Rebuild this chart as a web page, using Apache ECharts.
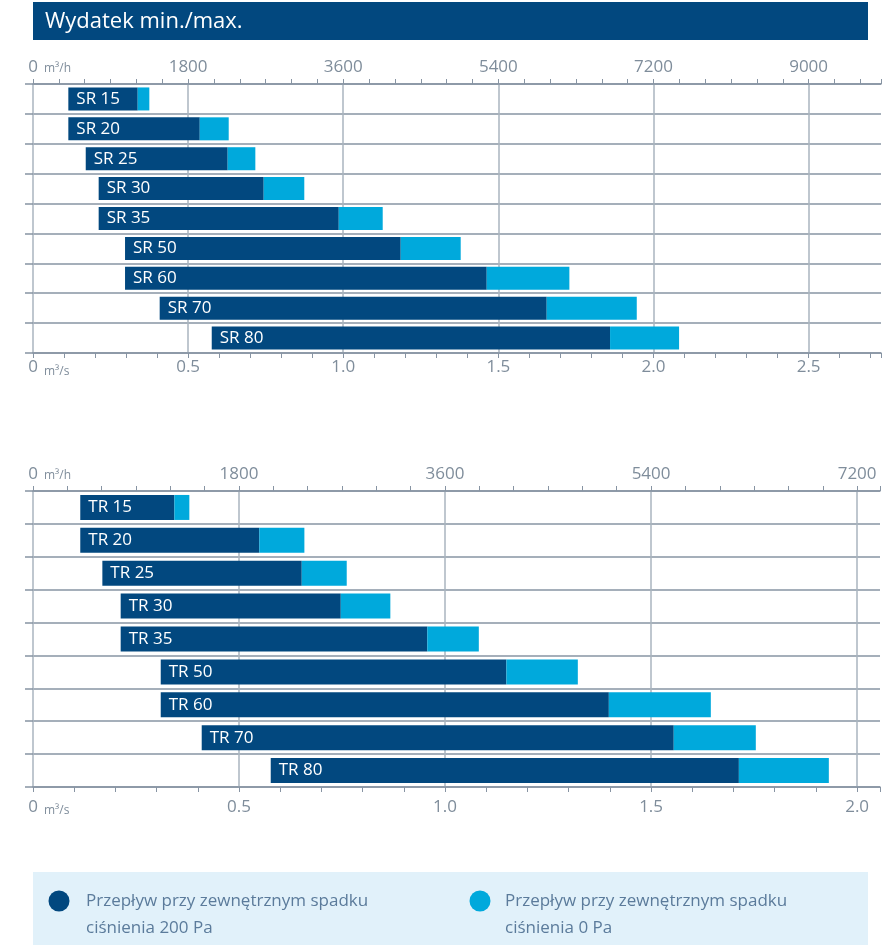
<!DOCTYPE html>
<html>
<head>
<meta charset="utf-8">
<script src="https://cdn.jsdelivr.net/npm/echarts@6/dist/echarts.min.js"></script>
<style>
  html, body { margin: 0; padding: 0; background: #fff; }
  #main { width: 890px; height: 945px; }
</style>
</head>
<body>
<div id="main"></div>
<script>
// wydatek w m3/h: poczatek slupka, 200 Pa, 0 Pa
var srNames = ['SR 15', 'SR 20', 'SR 25', 'SR 30', 'SR 35', 'SR 50', 'SR 60', 'SR 70', 'SR 80'];
var srStart = [410, 410, 612, 762, 762, 1068, 1068, 1470, 2074];
var srMin = [1215, 1935, 2259, 2677, 3548, 4267, 5265, 5961, 6696];
var srMax = [1350, 2271, 2580, 3148, 4058, 4963, 6224, 7006, 7497];

var trNames = ['TR 15', 'TR 20', 'TR 25', 'TR 30', 'TR 35', 'TR 50', 'TR 60', 'TR 70', 'TR 80'];
var trStart = [413, 413, 606, 766, 766, 1116, 1116, 1474, 2077];
var trMin = [1235, 1977, 2348, 2689, 3445, 4136, 5031, 5598, 6167];
var trMax = [1366, 2371, 2741, 3122, 3895, 4760, 5922, 6315, 6953];

var legendNames = ['Przepływ przy zewnętrznym spadku\nciśnienia 200 Pa', 'Przepływ przy zewnętrznym spadku\nciśnienia 0 Pa'];

var dark = '#02487f';
var light = '#00a9dc';
var labelCol = '#7f8d9b';
var rowCol = '#8794a3';
var gridCol = '#aab4bf';
var font = "'Open Sans', 'Noto Sans', sans-serif";

(function () {
  var myChart = echarts.init(document.getElementById('main'));

  function diff(a, b) {
    return a.map(function (v, i) { return v - b[i]; });
  }

  function topAxis(g, max) {
    var cols = [gridCol, 'rgba(0,0,0,0)', 'rgba(0,0,0,0)', 'rgba(0,0,0,0)', 'rgba(0,0,0,0)', 'rgba(0,0,0,0)'];
    return {
      gridIndex: g, type: 'value', position: 'top', min: 0, max: max, interval: 300,
      axisLine: { show: true, lineStyle: { color: rowCol, width: 1.5 } },
      axisTick: { show: true, length: 5, lineStyle: { color: rowCol, width: 1 } },
      axisLabel: {
        margin: 8, color: labelCol, fontSize: 17, fontFamily: font,
        formatter: function (v) { return v % 1800 === 0 ? String(v) : ''; }
      },
      splitLine: { show: true, lineStyle: { color: cols, width: 1.5 } }
    };
  }

  function bottomAxis(g, max, margin) {
    return {
      gridIndex: g, type: 'value', position: 'bottom', min: 0, max: max / 3600, interval: 0.1,
      axisLine: { show: true, lineStyle: { color: rowCol, width: 1.5 } },
      axisTick: { show: true, length: 5, lineStyle: { color: rowCol, width: 1 } },
      axisLabel: {
        margin: margin, color: labelCol, fontSize: 17, fontFamily: font,
        formatter: function (v) {
          var h = v * 2;
          if (Math.abs(h - Math.round(h)) > 1e-6) return '';
          return v === 0 ? '0' : v.toFixed(1);
        }
      },
      splitLine: { show: false }
    };
  }

  function catAxis(g, names) {
    return {
      gridIndex: g, type: 'category', data: names, inverse: true,
      axisLine: { show: false },
      axisLabel: { show: false },
      axisTick: { show: true, interval: 0, length: 8, lineStyle: { color: rowCol, width: 1.5 } },
      splitLine: { show: true, interval: 0, lineStyle: { color: rowCol, width: 1.5 } }
    };
  }

  function bars(g, xi, start, min, max, gap) {
    var st = 'g' + g;
    return [
      {
        type: 'bar', stack: st, xAxisIndex: xi, yAxisIndex: g, silent: true,
        barCategoryGap: gap, itemStyle: { color: 'rgba(0,0,0,0)' }, data: start
      },
      {
        name: legendNames[0], type: 'bar', stack: st, xAxisIndex: xi, yAxisIndex: g,
        barCategoryGap: gap, itemStyle: { color: dark },
        label: {
          show: true, position: 'insideLeft', distance: 8, formatter: '{b}',
          color: '#fff', fontSize: 17, fontFamily: font
        },
        data: diff(min, start)
      },
      {
        name: legendNames[1], type: 'bar', stack: st, xAxisIndex: xi, yAxisIndex: g,
        barCategoryGap: gap, itemStyle: { color: light }, data: diff(max, min)
      }
    ];
  }

  function unit(x, y, txt) {
    return {
      type: 'text', left: x, top: y, silent: true,
      style: { text: txt, fill: labelCol, fontSize: 12, fontFamily: font }
    };
  }

  var option = {
    animation: false,
    grid: [
      { left: 33, right: 9, top: 84, height: 269 },
      { left: 33, right: 10, top: 491, height: 296 }
    ],
    xAxis: [
      topAxis(0, 9840),
      bottomAxis(0, 9840, 6),
      topAxis(1, 7400),
      bottomAxis(1, 7400, 12)
    ],
    yAxis: [catAxis(0, srNames), catAxis(1, trNames)],
    series: [].concat(
      bars(0, 0, srStart, srMin, srMax, '23%'),
      bars(1, 2, trStart, trMin, trMax, '24%')
    ),
    graphic: [
      { type: 'rect', left: 33, top: 2, shape: { width: 835, height: 38 }, style: { fill: dark }, silent: true },
      {
        type: 'text', left: 45, top: 11, silent: true,
        style: { text: 'Wydatek min./max.', fill: '#fff', fontSize: 22, fontFamily: font }
      },
      unit(44, 63, 'm³/h'),
      unit(44, 366, 'm³/s'),
      unit(44, 470, 'm³/h'),
      unit(44, 805, 'm³/s'),
      { type: 'rect', left: 33, top: 872, shape: { width: 835, height: 73 }, style: { fill: '#e1f1fa' }, silent: true },
      { type: 'circle', shape: { cx: 59, cy: 901, r: 10.5 }, style: { fill: dark }, silent: true },
      { type: 'circle', shape: { cx: 480, cy: 901, r: 10.5 }, style: { fill: light }, silent: true },
      {
        type: 'text', left: 86, top: 888, silent: true,
        style: { text: legendNames[0], fill: '#5b7b9b', fontSize: 17, lineHeight: 27, fontFamily: font }
      },
      {
        type: 'text', left: 505, top: 888, silent: true,
        style: { text: legendNames[1], fill: '#5b7b9b', fontSize: 17, lineHeight: 27, fontFamily: font }
      }
    ]
  };
  myChart.setOption(option);
  window.addEventListener('resize', function () {
    myChart.resize();
  });
})();
</script>
</body>
</html>
